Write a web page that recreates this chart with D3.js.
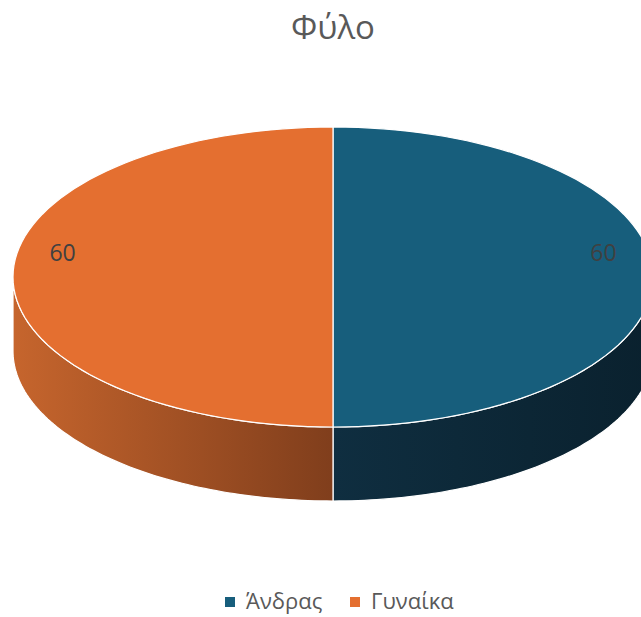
<!DOCTYPE html>
<html>
<head>
<meta charset="utf-8">
<script src="https://cdn.jsdelivr.net/npm/d3@7"></script>
<style>
  body { margin: 0; background: #fff; }
  text { font-family: "Open Sans", "Noto Sans", sans-serif; }
</style>
</head>
<body>
<div id="chart"></div>
<script>
const title = "Φύλο";
const categories = ["Άνδρας", "Γυναίκα"];
const values = [60, 60];

const width = 641, height = 617;
const cx = 333, cy = 277, rx = 320, ry = 150, depth = 74;

const topColors = ["#175e7c", "#e46f30"];
const sideStops = [["#0f2e40", "#0a212e"], ["#c6652d", "#803e1c"]];

const svg = d3.select("#chart").append("svg")
    .attr("width", width)
    .attr("height", height);

const defs = svg.append("defs");
// side gradients (left->right)
defs.append("linearGradient").attr("id", "side0")
    .attr("gradientUnits", "userSpaceOnUse")
    .attr("x1", cx).attr("x2", cx + rx).attr("y1", 0).attr("y2", 0)
    .selectAll("stop").data(sideStops[0]).join("stop")
    .attr("offset", (d, i) => i).attr("stop-color", d => d);
defs.append("linearGradient").attr("id", "side1")
    .attr("gradientUnits", "userSpaceOnUse")
    .attr("x1", cx - rx).attr("x2", cx).attr("y1", 0).attr("y2", 0)
    .selectAll("stop").data(sideStops[1]).join("stop")
    .attr("offset", (d, i) => i).attr("stop-color", d => d);

const pie = d3.pie().sort(null).value(d => d);
const arcs = pie(values);

const px = a => cx + rx * Math.sin(a);
const py = (a, off = 0) => cy - ry * Math.cos(a) + off;

function topPath(d) {
    const n = 80;
    const pts = d3.range(n + 1).map(i => {
        const a = d.startAngle + (d.endAngle - d.startAngle) * i / n;
        return [px(a), py(a)];
    });
    return "M" + cx + "," + cy + "L" + pts.map(p => p.join(",")).join("L") + "Z";
}

function sidePath(d) {
    const a0 = Math.max(d.startAngle, Math.PI / 2);
    const a1 = Math.min(d.endAngle, 3 * Math.PI / 2);
    if (a1 <= a0) return null;
    const n = 80;
    const topPts = d3.range(n + 1).map(i => {
        const a = a0 + (a1 - a0) * i / n;
        return [px(a), py(a)];
    });
    const botPts = topPts.slice().reverse().map(p => [p[0], p[1] + depth]);
    return "M" + topPts.concat(botPts).map(p => p.join(",")).join("L") + "Z";
}

// side walls
svg.append("g")
    .selectAll("path")
    .data(arcs)
    .join("path")
    .attr("d", sidePath)
    .attr("fill", (d, i) => `url(#side${i})`)
    .attr("stroke", "#ffffff")
    .attr("stroke-width", 1.2)
    .attr("stroke-linejoin", "round");

// top faces
svg.append("g")
    .selectAll("path")
    .data(arcs)
    .join("path")
    .attr("d", topPath)
    .attr("fill", (d, i) => topColors[i])
    .attr("stroke", "#ffffff")
    .attr("stroke-width", 1.2)
    .attr("stroke-linejoin", "round");

// data labels
svg.append("g")
    .selectAll("text")
    .data(arcs)
    .join("text")
    .attr("x", d => cx + rx * 0.845 * Math.sin((d.startAngle + d.endAngle) / 2))
    .attr("y", d => cy - 24 - ry * 0.845 * Math.cos((d.startAngle + d.endAngle) / 2))
    .attr("dy", "0.35em")
    .attr("text-anchor", "middle")
    .attr("fill", "#404040")
    .style("font-size", "23px")
    .text(d => d.data);

// title
svg.append("text")
    .attr("x", cx)
    .attr("y", 39)
    .attr("text-anchor", "middle")
    .attr("fill", "#595959")
    .style("font-size", "33px")
    .text(title);

// legend
const legendX = [225, 350];
const legend = svg.append("g")
    .selectAll("g")
    .data(categories)
    .join("g")
    .attr("transform", (d, i) => `translate(${legendX[i]},602)`);
legend.append("rect")
    .attr("x", 0).attr("y", -5)
    .attr("width", 10).attr("height", 10)
    .attr("fill", (d, i) => topColors[i]);
legend.append("text")
    .attr("x", 21)
    .attr("dy", "0.33em")
    .attr("fill", "#595959")
    .style("font-size", "22px")
    .text(d => d);
</script>
</body>
</html>
